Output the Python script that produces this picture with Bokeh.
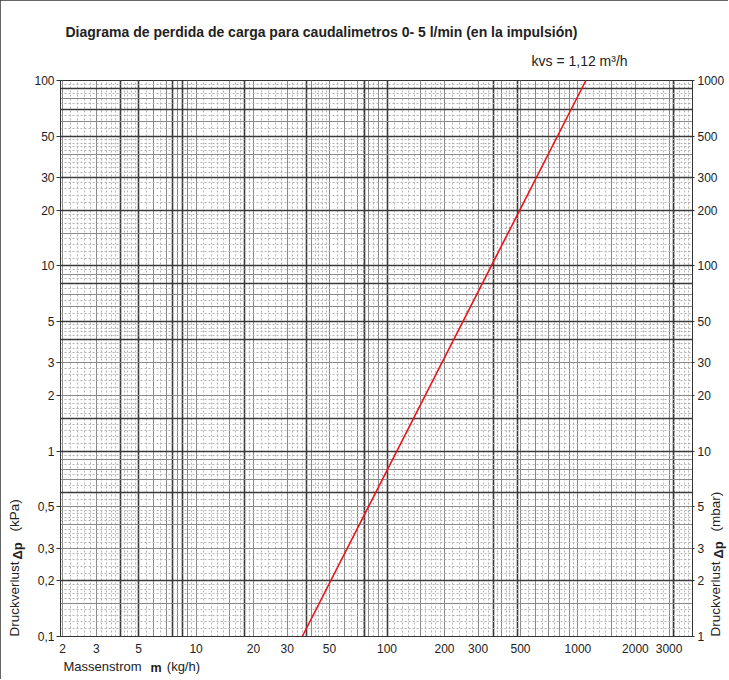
import numpy as np
from bokeh.plotting import figure
from bokeh.models import (Range1d, LogScale, LogAxis, Grid, FixedTicker, Label,
                          CustomJSTickFormatter)
from bokeh.embed import file_html
from bokeh.resources import INLINE

# ---- data ----
mass_flow_kg_h = [36, 1100]          # Massenstrom m (kg/h)
pressure_drop_kpa = [0.1, 100]       # Druckverlust Δp (kPa)
x_tick_values = [2, 3, 5, 10, 20, 30, 50, 100, 200, 300, 500, 1000, 2000, 3000]
y_tick_values_kpa = [0.1, 0.2, 0.3, 0.5, 1, 2, 3, 5, 10, 20, 30, 50, 100]
y_tick_values_mbar = [1, 2, 3, 5, 10, 20, 30, 50, 100, 200, 300, 500, 1000]
title_text = "Diagrama de perdida de carga para caudalimetros 0- 5 l/min (en la impulsión)"
kvs_text = "kvs = 1,12 m³/h"

FONT = "Liberation Sans"
TXT = "#222222"
NB = "\u00a0"

p = figure(x_axis_type="log", y_axis_type="log",
           x_range=Range1d(1.95, 3980), y_range=Range1d(0.1, 100),
           frame_width=632, frame_height=556,
           min_border_left=60, min_border_right=36, min_border_top=80, min_border_bottom=43,
           output_backend="svg", toolbar_location=None,
           background_fill_color="white", border_fill_color="white")
p.styles = {"outline": "1px solid #333333", "outline-offset": "-1px"}
p.title.visible = False
p.outline_line_color = "#333333"
p.grid.visible = False

# ---- graph-paper grid (style only) ----
def decade_lines(e0, e1, mults):
    return sorted({round(m * 10 ** e, 10) for e in range(e0, e1 + 1) for m in mults})

minor_mults = list(np.arange(1.1, 2.0, 0.1)) + list(np.arange(2.2, 5.0, 0.2)) + list(np.arange(5.5, 10, 0.5))
medium_mults = [1, 1.5, 2, 3, 4, 5, 6, 7, 8, 9]
bold_x = [4, 5, 7.5, 8.5, 18, 38, 76, 100, 360, 480, 3160]
bold_y = [90, 70, 50, 30, 20, 10, 8, 5, 4, 1.5, 1, 0.6, 0.2]

for dim, e0, e1, bold in ((0, 0, 3, bold_x), (1, -1, 2, bold_y)):
    p.add_layout(Grid(dimension=dim, ticker=FixedTicker(ticks=decade_lines(e0, e1, minor_mults)),
                      grid_line_color="#b4b4b4", grid_line_width=1, grid_line_dash="2 2"))
    p.add_layout(Grid(dimension=dim, ticker=FixedTicker(ticks=decade_lines(e0, e1, medium_mults)),
                      grid_line_color="#8a8a8a", grid_line_width=1))
    p.add_layout(Grid(dimension=dim, ticker=FixedTicker(ticks=bold),
                      grid_line_color="#3a3a3a", grid_line_width=1.6))

# ---- the kvs curve ----
p.line(mass_flow_kg_h, pressure_drop_kpa, line_color="#e8141c", line_width=1.6)

# ---- axes ----
fmt = CustomJSTickFormatter(code="return String(tick).replace('.', ',');")

xa = p.xaxis[0]
xa.ticker = FixedTicker(ticks=x_tick_values)
xa.formatter = fmt
xa.major_tick_out = 0
xa.major_tick_in = 0
xa.minor_tick_out = 0
xa.major_label_standoff = 7
xa.axis_line_color = "#333333"

ya = p.yaxis[0]
ya.ticker = FixedTicker(ticks=y_tick_values_kpa)
ya.formatter = fmt
ya.major_tick_out = 4
ya.major_tick_in = 0
ya.minor_tick_out = 0
ya.major_label_standoff = 2
ya.axis_line_color = "#333333"
ya.major_tick_line_color = "#333333"

p.extra_y_ranges = {"mbar": Range1d(1, 1000)}
p.extra_y_scales = {"mbar": LogScale()}
ra = LogAxis(y_range_name="mbar", ticker=FixedTicker(ticks=y_tick_values_mbar), formatter=fmt)
ra.major_tick_out = 2
ra.major_tick_in = 0
ra.minor_tick_out = 0
ra.major_label_standoff = 3
ra.axis_line_color = "#333333"
ra.major_tick_line_color = "#333333"
p.add_layout(ra, "right")

for ax in (xa, ya, ra):
    ax.major_label_text_font = FONT
    ax.major_label_text_font_size = "12px"
    ax.major_label_text_color = TXT

# ---- texts (side-panel labels are not clipped to the frame) ----
def lab(side, x, y, text, size="13px", bold=False, angle=0.0):
    p.add_layout(Label(x=x, y=y, x_units="screen", y_units="screen", text=text,
                       text_font=FONT, text_font_size=size,
                       text_font_style="bold" if bold else "normal",
                       text_color=TXT, angle=angle, text_align="left",
                       text_baseline="middle"), side)

ROT = np.pi / 2
# above panel (stacked outward from the frame)
lab("above", 471, 20, kvs_text, size="14px")
lab("above", 5, 33, title_text, size="14px", bold=True)
lab("above", 90, -619, "m", size="12.5px", bold=True)
lab("above", -43, -525, "Δp", size="13px", bold=True, angle=ROT)
lab("above", 658, -541, "Δp", size="13px", bold=True, angle=ROT)

# left panel (after the axis)
lab("left", -2, 0, "Druckverlust" + NB * 8 + "(kPa)", size="13.5px", angle=ROT)
lab("left", 714, 0, "Druckverlust" + NB * 8 + "(mbar)", size="13.5px", angle=ROT)

# below panel (after the axis)
lab("below", 3, 4, "Massenstrom" + NB * 7 + "(kg/h)", size="13px")

open("out.html", "w").write(file_html(p, INLINE))
